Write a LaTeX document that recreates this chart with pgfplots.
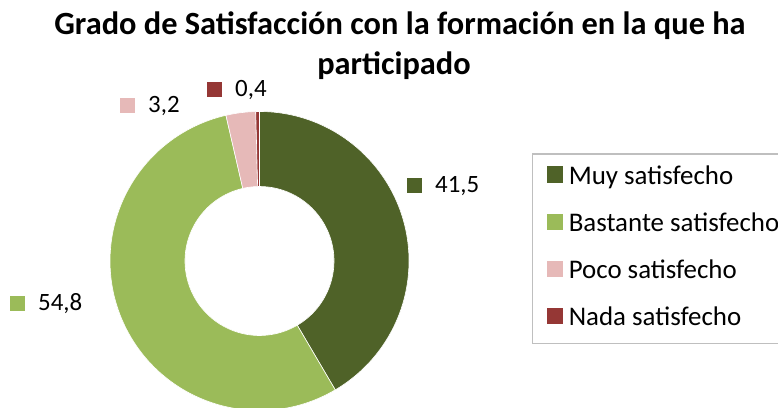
\documentclass[border=0pt]{standalone}
\usepackage{pgfplots}
\pgfplotsset{compat=1.18}
\usepackage{fontspec}
\setmainfont{Carlito}
\usetikzlibrary{calc}
\definecolor{muy}{HTML}{4F6228}
\definecolor{bastante}{HTML}{9BBB59}
\definecolor{poco}{HTML}{E6B9B8}
\definecolor{nada}{HTML}{953735}
\definecolor{legborder}{HTML}{BFBFBF}

% donut geometry (in px units of the axis)
\def\cx{259.5}
\def\cy{147}
\def\Rout{149.5bp}
\def\Rin{74.5bp}
\def\total{99.9}
\def\cum{0}
\newcommand\slice[2]{%
  \pgfmathsetmacro\aA{90-(\cum/\total)*360}%
  \pgfmathsetmacro\aB{90-((\cum+#1)/\total)*360}%
  \pgfmathsetmacro\newcum{\cum+#1}%
  \xdef\cum{\newcum}%
  \edef\doslice{\noexpand\fill[#2, draw=white, line width=0.6bp]
    ($(axis cs:\cx,\cy)+(\aA:\Rout)$) arc[start angle=\aA, end angle=\aB, radius=\Rout]
    -- ($(axis cs:\cx,\cy)+(\aB:\Rin)$) arc[start angle=\aB, end angle=\aA, radius=\Rin] -- cycle;}%
  \doslice
}
\newcommand\lab[4]{% x, baseline y (px from top), color, text
  \node[anchor=base west, inner sep=0pt, font=\fontsize{25}{25}\selectfont]
    at (axis cs:#1,408-#2) {\textcolor{#3}{\rule{15bp}{15bp}}\hspace{13bp}#4};
}

\begin{document}
\begin{tikzpicture}
\useasboundingbox (0,0) rectangle (778bp,408bp);
\begin{axis}[
  at={(0,0)}, anchor=south west,
  scale only axis, width=778bp, height=408bp,
  xmin=0, xmax=778, ymin=0, ymax=408,
  hide axis, clip=false,
  legend cell align=left,
  legend image code/.code={\fill[#1] (0bp,-3.5bp) rectangle (15bp,11.5bp); \path (21bp,0bp);},
  legend style={at={(axis cs:532,64)}, anchor=south west,
    draw=legborder, line width=1.2bp,
    inner xsep=14bp, inner ysep=12.5bp,
    row sep=24bp,
    font=\fontsize{27}{27}\selectfont,
    nodes={inner sep=0pt, text height=17bp, text depth=5bp}},
]
\addlegendimage{muy}\addlegendentry{Muy satisfecho}
\addlegendimage{bastante}\addlegendentry{Bastante satisfecho}
\addlegendimage{poco}\addlegendentry{Poco satisfecho}
\addlegendimage{nada}\addlegendentry{Nada satisfecho}

\slice{41.5}{muy}
\slice{54.8}{bastante}
\slice{3.2}{poco}
\slice{0.4}{nada}

\lab{407}{193}{muy}{41,5}
\lab{10}{311}{bastante}{54,8}
\lab{120}{113}{poco}{3,2}
\lab{207}{97}{nada}{0,4}

\node[anchor=base, inner sep=0pt, font=\fontsize{32.5}{32.5}\selectfont\bfseries]
  at (axis cs:400,408-35) {Grado de Satisfacción con la formación en la que ha};
\node[anchor=base, inner sep=0pt, font=\fontsize{32.5}{32.5}\selectfont\bfseries]
  at (axis cs:394,408-75) {participado};
\end{axis}
\end{tikzpicture}
\end{document}
